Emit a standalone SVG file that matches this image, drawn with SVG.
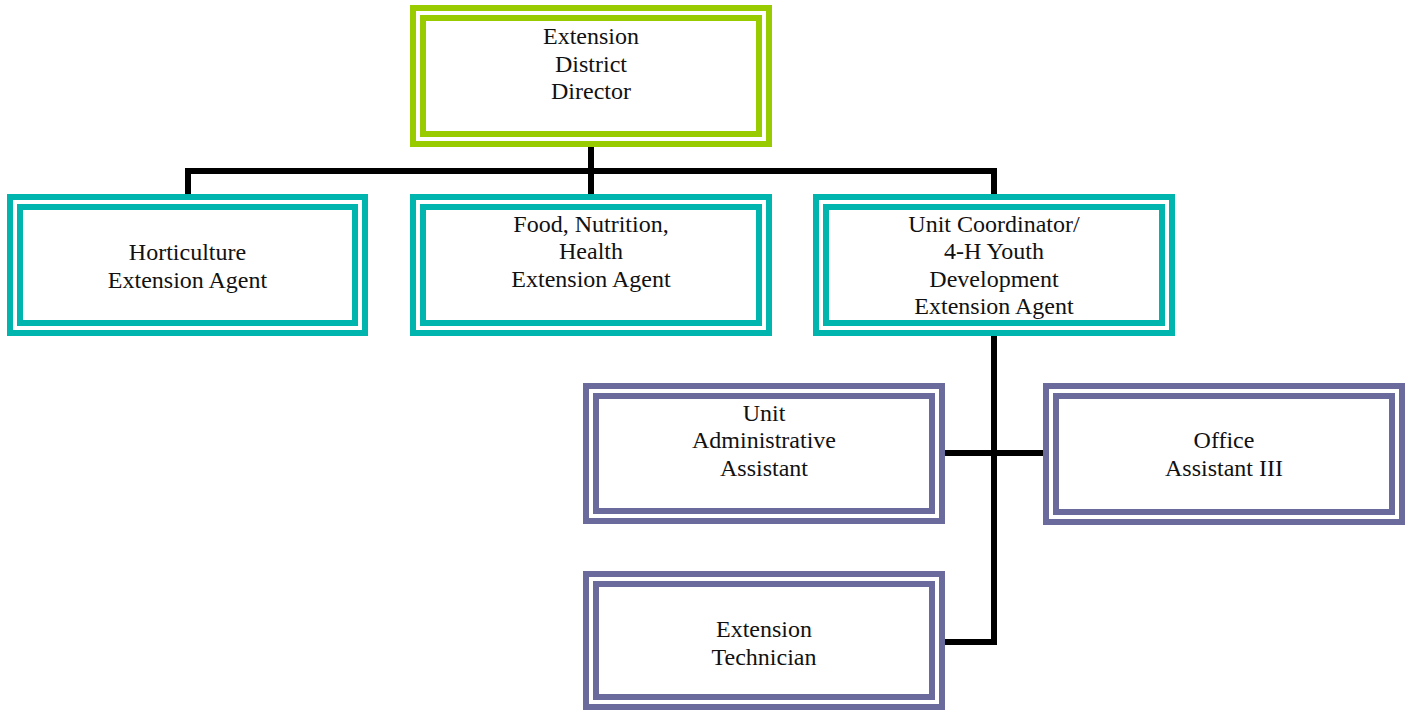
<svg xmlns="http://www.w3.org/2000/svg" width="1411" height="710" viewBox="0 0 1411 710">
  <style>
    .frame { fill: #ffffff; stroke-width: 6; }
    .ring { fill: none; stroke-width: 6; }
    .green { stroke: #99cc00; }
    .teal { stroke: #00b5ad; }
    .purple { stroke: #6a6a9c; }
    .label { font-family: "Liberation Serif", "Times New Roman", serif; font-size: 24px; fill: #111111; text-anchor: middle; }
    .link { fill: none; stroke: #000000; stroke-width: 6; stroke-linecap: square; stroke-linejoin: miter; }
  </style>
  <rect x="0" y="0" width="1411" height="710" fill="#ffffff"/>

  <!-- reporting lines -->
  <g id="connectors">
    <path class="link" d="M591 147 V194"/>
    <path class="link" d="M188 194 V171 H994 V194"/>
    <path class="link" d="M994 336 V642 H948"/>
    <path class="link" d="M948 453 H1040"/>
  </g>

  <g id="district-director">
    <rect class="frame green" x="413" y="8" width="356" height="136"/>
    <rect class="ring green" x="423" y="18" width="336" height="116"/>
    <text class="label" x="591" y="44">Extension</text>
    <text class="label" x="591" y="71.5">District</text>
    <text class="label" x="591" y="99">Director</text>
  </g>

  <g id="horticulture-agent">
    <rect class="frame teal" x="10" y="197" width="355" height="136"/>
    <rect class="ring teal" x="20" y="207" width="335" height="116"/>
    <text class="label" x="187.5" y="260">Horticulture</text>
    <text class="label" x="187.5" y="288">Extension Agent</text>
  </g>

  <g id="fnh-agent">
    <rect class="frame teal" x="413" y="197" width="356" height="136"/>
    <rect class="ring teal" x="423" y="207" width="336" height="116"/>
    <text class="label" x="591" y="231.7">Food, Nutrition,</text>
    <text class="label" x="591" y="259.2">Health</text>
    <text class="label" x="591" y="286.7">Extension Agent</text>
  </g>

  <g id="unit-coordinator">
    <rect class="frame teal" x="816" y="197" width="356" height="136"/>
    <rect class="ring teal" x="826" y="207" width="336" height="116"/>
    <text class="label" x="994" y="231.7">Unit Coordinator/</text>
    <text class="label" x="994" y="259.2">4-H Youth</text>
    <text class="label" x="994" y="286.7">Development</text>
    <text class="label" x="994" y="314.2">Extension Agent</text>
  </g>

  <g id="unit-admin-assistant">
    <rect class="frame purple" x="586" y="386" width="356" height="135"/>
    <rect class="ring purple" x="596" y="396" width="336" height="115"/>
    <text class="label" x="764" y="420.7">Unit</text>
    <text class="label" x="764" y="448.3">Administrative</text>
    <text class="label" x="764" y="476">Assistant</text>
  </g>

  <g id="office-assistant">
    <rect class="frame purple" x="1046" y="386" width="356" height="136"/>
    <rect class="ring purple" x="1056" y="396" width="336" height="116"/>
    <text class="label" x="1224" y="448.3">Office</text>
    <text class="label" x="1224" y="476">Assistant III</text>
  </g>

  <g id="extension-technician">
    <rect class="frame purple" x="586" y="574" width="356" height="133"/>
    <rect class="ring purple" x="596" y="584" width="336" height="113"/>
    <text class="label" x="764" y="636.7">Extension</text>
    <text class="label" x="764" y="665">Technician</text>
  </g>
</svg>
